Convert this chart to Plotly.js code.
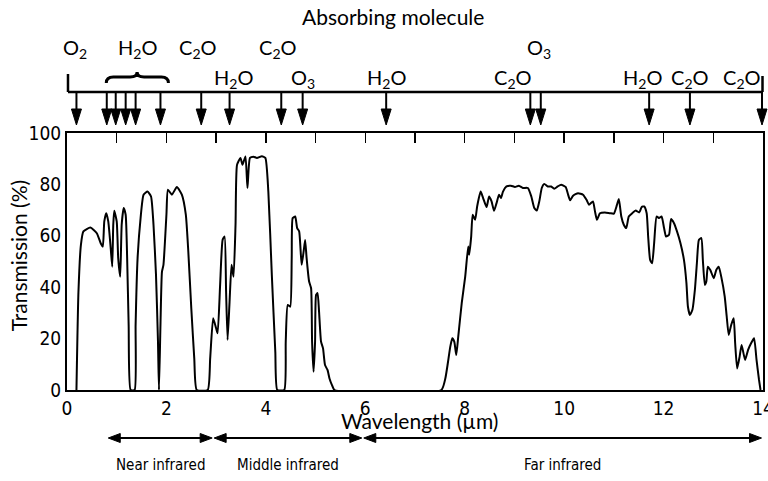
<!DOCTYPE html>
<html>
<head>
<meta charset="utf-8">
<script src="https://cdn.plot.ly/plotly-3.0.1.min.js"></script>
<style>html,body{margin:0;padding:0;background:#fff;}#chart{width:768px;height:481px;}</style>
</head>
<body>
<div id="chart"></div>
<script>
// ---------------- data ----------------
const wavelength = [
  0.19,0.23,0.28,0.33,0.47,0.60,0.68,0.72,0.75,0.79,0.83,0.88,0.91,0.93,0.95,1.00,1.03,1.07,1.10,1.14,1.18,1.21,1.24,1.28,
  1.36,1.38,1.42,1.48,1.54,1.62,1.69,1.74,1.79,1.83,1.85,
  1.88,1.91,1.94,2.00,2.03,2.11,2.21,2.31,2.39,2.44,2.50,2.56,2.61,
  2.83,2.88,2.94,3.00,3.03,3.08,3.13,3.17,3.20,3.23,3.27,3.31,3.35,3.39,3.42,3.49,3.53,3.59,3.63,3.68,3.75,3.82,3.92,3.99,4.05,4.12,4.19,4.23,
  4.37,4.40,4.44,4.49,4.52,4.54,4.59,4.63,4.67,4.72,4.76,4.79,4.82,4.87,4.91,4.93,4.96,4.99,5.01,5.04,5.07,5.11,5.15,5.19,5.24,5.28,5.33,5.38,
  7.53,7.61,7.66,7.71,7.75,7.79,7.83,7.87,7.94,8.01,8.07,8.09,8.13,8.16,8.21,8.25,8.32,8.37,8.44,8.49,8.54,8.59,8.64,8.69,8.73,8.77,8.84,8.93,9.01,9.09,9.17,9.27,
  9.34,9.40,9.45,9.50,9.55,9.60,9.67,9.74,9.80,9.87,9.94,10.03,10.08,10.12,10.18,10.28,10.38,10.45,10.50,10.58,10.62,10.66,10.72,10.82,10.92,11.00,
  11.05,11.10,11.15,11.20,11.25,11.30,11.37,11.44,11.51,11.56,11.61,11.66,11.69,11.73,11.77,11.81,11.86,11.91,11.96,12.01,12.05,12.11,12.15,12.21,12.27,12.34,
  12.41,12.46,12.49,12.53,12.58,12.63,12.67,12.71,12.76,12.79,12.83,12.86,12.89,12.94,13.01,13.06,13.11,13.16,13.23,13.27,13.31,13.36,13.41,13.44,13.48,13.53,
  13.57,13.64,13.70,13.76,13.82,13.87,13.92,13.95
];
const transmission = [
  0,38,56.5,61.7,63.2,61,57,55.8,65.6,68.8,65.6,55,48,64,69.7,65.6,51.3,44.1,64.3,70.8,68.2,51.3,25.3,0,
  0,25.3,51.3,66.9,76,77.2,75.3,64.3,44.8,18.8,0,
  25.3,46,48.7,68.2,77.9,76,79,76,68.2,53.9,31.8,12.3,0,
  0,12.3,27.9,24,22.1,40.9,58.4,59.7,38.3,19.5,34.4,48.7,44.1,64.3,87.6,90.3,87.6,90.9,78.6,90.3,90.8,90.3,91,90.3,77.2,44.8,14.9,0,
  0,18.8,33.1,32.4,51.3,66.9,67.5,63,61.7,48.7,53.9,58.4,51.3,42.2,39.6,18.8,7.1,18.8,37,37.7,30.5,18.8,16.2,9.7,7.8,4.5,1.9,0,
  0,4.5,10.4,16.9,20.1,18.8,13.6,20.8,33.8,44.1,55.8,52.6,59.7,68.2,66.2,71.4,77.2,74.7,71.2,75.3,73.4,69.7,72.7,76,74.7,77.2,79.2,79.5,79,79.5,78.6,78.6,
  75.3,70.8,69.8,73.4,78.6,80.2,79.2,79.2,78.3,79.2,79.9,79,76,73.8,75.6,76.6,76,74,72.1,73.4,69.5,66.2,68.8,69.1,68.8,68.6,
  71.2,74.3,67.5,64.3,63,67.5,68.8,69.8,69.1,71.2,71.4,68.8,59.7,50.6,49.3,57.1,67.5,66.9,67.5,63,59.7,60.4,66.5,64.9,61.7,57.1,
  50.6,41.6,32.4,29.2,31.2,39,49.3,58.4,59.1,50.6,40.9,42.2,48,46.7,43.5,46.7,48,44.1,36.3,28.6,21.4,25.3,27.9,18.2,8.4,13,
  17.5,11.7,15.6,18.2,20.1,11.7,3.9,0
];
const xTicks = [0, 2, 4, 6, 8, 10, 12, 14];
const yTicks = [0, 20, 40, 60, 80, 100];

// absorption lines (wavelength, µm) marked by arrows on the top scale
const absorptionLines = [0.19, 0.80, 0.98, 1.18, 1.38, 1.88, 2.70, 3.27, 4.31, 4.74, 6.42, 9.32, 9.53, 11.71, 12.53, 13.98];
const moleculeLabels = ['O<sub>2</sub>', 'H<sub>2</sub>O', 'C<sub>2</sub>O', 'C<sub>2</sub>O', 'O<sub>3</sub>',
                        'H<sub>2</sub>O', 'O<sub>3</sub>', 'H<sub>2</sub>O', 'C<sub>2</sub>O', 'H<sub>2</sub>O', 'C<sub>2</sub>O', 'C<sub>2</sub>O'];
const moleculeLabelX = [0.17, 1.41, 2.64, 4.25, 9.49, 3.34, 4.75, 6.42, 8.97, 11.58, 12.53, 13.57];
const moleculeLabelRow = [1, 1, 1, 1, 1, 2, 2, 2, 2, 2, 2, 2];
const waterGroup = [0.79, 1.41, 2.04]; // brace: start, centre, end

const bandNames = ['Near infrared', 'Middle infrared', 'Far infrared'];
const bandStart = [0.83, 2.96, 5.97];
const bandEnd = [2.92, 5.93, 13.97];

// ---------------- styles ----------------
const TITLE_FONT = 'Lato, "Liberation Sans", sans-serif';
const NARROW_FONT = '"Liberation Sans Narrow", "DejaVu Sans Condensed", "Liberation Sans", sans-serif';
const INK = '#000';

const traces = [
  {
    x: wavelength, y: transmission, type: 'scatter', mode: 'lines',
    line: {color: INK, width: 2, shape: 'spline', smoothing: 0.5},
    hoverinfo: 'skip', showlegend: false
  },
  { // carrier trace for the top tick axis
    x: [0], y: [0], xaxis: 'x2', yaxis: 'y', type: 'scatter', mode: 'markers',
    marker: {opacity: 0}, hoverinfo: 'skip', showlegend: false
  }
];

// pixel helpers for paper coordinates (plot box: 257 px high)
const PLOT_TOP = 133, PLOT_BOTTOM = 390;
const py = p => (PLOT_BOTTOM - p) / (PLOT_BOTTOM - PLOT_TOP);

const annotations = [];
moleculeLabels.forEach((t, i) => {
  annotations.push({
    text: t, x: moleculeLabelX[i], xref: 'x', y: moleculeLabelRow[i] === 1 ? py(48) : py(78), yref: 'paper',
    xanchor: 'center', yanchor: 'middle', showarrow: false,
    font: {family: TITLE_FONT, size: 20, color: INK}
  });
});
bandNames.forEach((t, i) => {
  annotations.push({
    text: t, x: (bandStart[i] + bandEnd[i]) / 2, xref: 'x', y: py(465), yref: 'paper',
    xanchor: 'center', yanchor: 'middle', showarrow: false,
    font: {family: NARROW_FONT, size: 15, color: INK}
  });
});
annotations.push({
  text: 'Wavelength (µm)', x: 0.507, xref: 'paper', y: py(420), yref: 'paper',
  xanchor: 'center', yanchor: 'middle', showarrow: false,
  font: {family: TITLE_FONT, size: 21, color: INK}
});
annotations.push({
  text: 'Transmission (%)', x: -0.07, xref: 'paper', y: py(256), yref: 'paper', textangle: -90,
  xanchor: 'center', yanchor: 'middle', showarrow: false,
  font: {family: TITLE_FONT, size: 21, color: INK}
});

const layout = {
  width: 768, height: 481,
  margin: {l: 67, r: 5, t: 133, b: 91},
  paper_bgcolor: '#fff', plot_bgcolor: '#fff',
  showlegend: false,
  title: {
    text: 'Absorbing molecule', x: 0.512, xref: 'container', xanchor: 'center',
    y: 1 - 18 / 481, yref: 'container', yanchor: 'middle',
    font: {family: TITLE_FONT, size: 21, color: INK}
  },
  xaxis: {
    range: [0, 14], tickvals: xTicks, ticks: '', showline: true, mirror: true,
    linewidth: 2, linecolor: INK, showgrid: false, zeroline: false, ticklabeloverflow: 'allow',
    tickfont: {family: NARROW_FONT, size: 19, color: INK}, fixedrange: true
  },
  xaxis2: {
    overlaying: 'x', matches: 'x', side: 'top', ticks: 'inside', ticklen: 10, tickwidth: 1.5,
    tickcolor: INK, tick0: 0, dtick: 1, showticklabels: false, showline: false,
    showgrid: false, zeroline: false
  },
  yaxis: {
    range: [0, 100], tickvals: yTicks, ticks: '', showline: true, mirror: true,
    linewidth: 2, linecolor: INK, showgrid: false, zeroline: false,
    tickfont: {family: NARROW_FONT, size: 19, color: INK}, fixedrange: true
  },
  annotations: annotations
};

const gd = document.getElementById('chart');
Plotly.newPlot(gd, traces, layout, {displayModeBar: false, staticPlot: true}).then(() => {
  const fl = gd._fullLayout;
  const xa = fl.xaxis;
  const W = xa._length, H = fl._size.h;
  const px = wl => xa.l2p(wl) / W;   // wavelength -> paper x, via the axis scale
  const dx = p => p / W;              // pixel width -> paper
  const dy = p => p / H;              // pixel height -> paper
  const shapes = [];
  const line = (x0, y0, x1, y1, w) => shapes.push({type: 'line', xref: 'paper', yref: 'paper', x0, y0, x1, y1, line: {color: INK, width: w}});
  const poly = pts => shapes.push({
    type: 'path', xref: 'paper', yref: 'paper', fillcolor: INK, line: {color: INK, width: 1},
    path: 'M' + pts.map(p => p[0] + ',' + p[1]).join('L') + 'Z'
  });

  // top molecule scale
  const yAxisTop = py(92);
  line(px(0.02), yAxisTop, px(13.99), yAxisTop, 2.5);
  line(px(0.02), py(74), px(0.02), yAxisTop, 2.5);
  line(px(13.99), py(76), px(13.99), yAxisTop, 2.5);
  absorptionLines.forEach(wl => {
    const x = px(wl);
    line(x, yAxisTop, x, py(110), 2);
    poly([[x - dx(5), py(109)], [x + dx(5), py(109)], [x, py(125)]]);
  });

  // brace over the water group
  const a = px(waterGroup[0]), m = px(waterGroup[1]), b = px(waterGroup[2]), d = dx(7);
  const yE = py(83), yL = py(77), yT = py(72);
  shapes.push({
    type: 'path', xref: 'paper', yref: 'paper', line: {color: INK, width: 3},
    path: `M${a},${yE} Q${a},${yL} ${a + d},${yL} L${m - d},${yL} Q${m},${yL} ${m},${yT} ` +
          `Q${m},${yL} ${m + d},${yL} L${b - d},${yL} Q${b},${yL} ${b},${yE}`
  });

  // band arrows
  const yb = py(438);
  bandNames.forEach((n, i) => {
    const x0 = px(bandStart[i]), x1 = px(bandEnd[i]);
    line(x0 + dx(6), yb, x1 - dx(6), yb, 2);
    poly([[x0, yb], [x0 + dx(12), yb + dy(4.5)], [x0 + dx(12), yb - dy(4.5)]]);
    poly([[x1, yb], [x1 - dx(12), yb + dy(4.5)], [x1 - dx(12), yb - dy(4.5)]]);
  });

  return Plotly.relayout(gd, {shapes: shapes});
});
</script>
</body>
</html>
